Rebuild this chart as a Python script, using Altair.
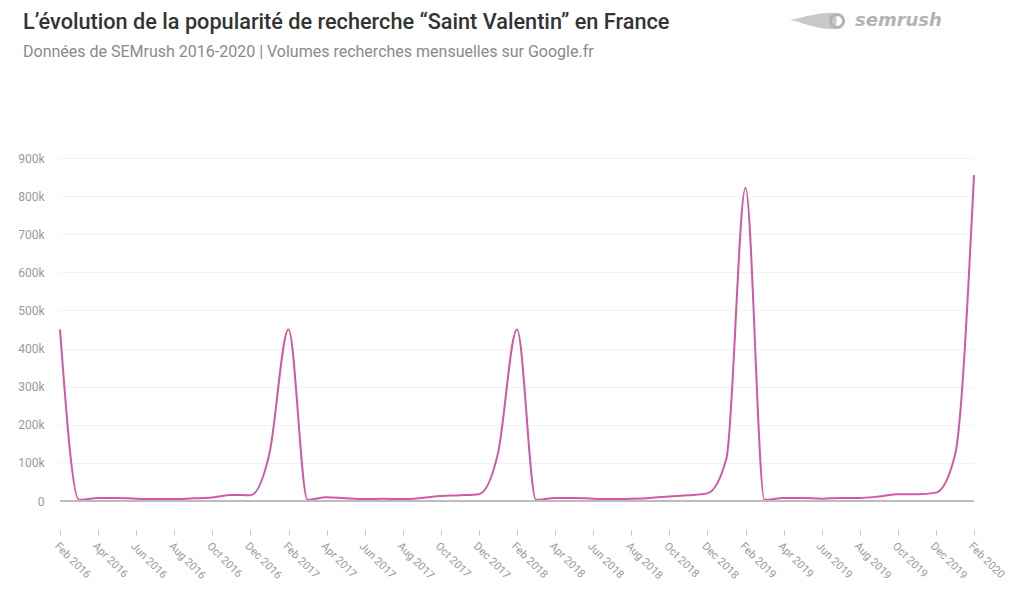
import altair as alt
import pandas as pd

# ---- data (monthly search volume, thousands) ----
months = [
    "Feb 2016", "Mar 2016", "Apr 2016", "May 2016", "Jun 2016", "Jul 2016", "Aug 2016", "Sep 2016",
    "Oct 2016", "Nov 2016", "Dec 2016", "Jan 2017", "Feb 2017", "Mar 2017", "Apr 2017", "May 2017",
    "Jun 2017", "Jul 2017", "Aug 2017", "Sep 2017", "Oct 2017", "Nov 2017", "Dec 2017", "Jan 2018",
    "Feb 2018", "Mar 2018", "Apr 2018", "May 2018", "Jun 2018", "Jul 2018", "Aug 2018", "Sep 2018",
    "Oct 2018", "Nov 2018", "Dec 2018", "Jan 2019", "Feb 2019", "Mar 2019", "Apr 2019", "May 2019",
    "Jun 2019", "Jul 2019", "Aug 2019", "Sep 2019", "Oct 2019", "Nov 2019", "Dec 2019", "Jan 2020",
    "Feb 2020",
]
volume_k = [
    450, 3, 8, 8, 6, 5, 5, 7,
    9, 16, 15, 125, 450, 3, 10, 7,
    5, 6, 5, 8, 13, 15, 18, 125,
    450, 3, 8, 8, 6, 5, 6, 8,
    12, 15, 20, 112, 822, 3, 8, 8,
    6, 8, 8, 12, 18, 18, 22, 120,
    855,
]
tick_labels = months[::2]
y_ticks = [0, 100000, 200000, 300000, 400000, 500000, 600000, 700000, 800000, 900000]

title_text = "L’évolution de la popularité de recherche “Saint Valentin” en France"
subtitle_text = "Données de SEMrush 2016-2020 | Volumes recherches mensuelles sur Google.fr"
logo_text = "semrush"

df = pd.DataFrame({"month": months, "volume": [v * 1000 for v in volume_k]})

FONT = "Roboto"
LINE = "#cf5aa3"

x_enc = alt.X(
    "month:O",
    sort=None,
    scale=alt.Scale(type="point", padding=0),
    axis=alt.Axis(
        values=tick_labels,
        labelAngle=45,
        labelAlign="left",
        labelBaseline="top",
        offset=29,
        domain=False,
        tickSize=5,
        tickColor="#c4c4c4",
        labelColor="#9a9a9a",
        labelFontSize=11,
        labelFont=FONT,
        labelPadding=5,
        labelOverlap=False,
        grid=False,
        title=None,
    ),
)
y_enc = alt.Y(
    "volume:Q",
    scale=alt.Scale(domain=[0, 900000], nice=False),
    axis=alt.Axis(
        values=y_ticks,
        tickCount=10,
        labelOverlap=False,
        labelExpr="datum.value == 0 ? '0' : (datum.value / 1000) + 'k'",
        domain=False,
        ticks=False,
        labelPadding=16,
        labelColor="#9a9a9a",
        labelFontSize=12,
        labelFont=FONT,
        gridColor="#f2f2f2",
        gridWidth=1,
        title=None,
    ),
)

line = alt.Chart(df).mark_line(
    interpolate="monotone", color=LINE, strokeWidth=2
).encode(x=x_enc, y=y_enc)

baseline = alt.Chart(pd.DataFrame({"z": [0]})).mark_rule(
    color="#bdbdbd", strokeWidth=2
).encode(y="z:Q")

title = alt.Chart(pd.DataFrame({"t": [title_text]})).mark_text(
    align="left", baseline="middle", font=FONT, fontSize=21.7, fontWeight=500, color="#333333"
).encode(text="t:N", x=alt.value(-37), y=alt.value(-136))

subtitle = alt.Chart(pd.DataFrame({"t": [subtitle_text]})).mark_text(
    align="left", baseline="middle", font=FONT, fontSize=16, color="#8a8a8a"
).encode(text="t:N", x=alt.value(-37), y=alt.value(-106))

logo = alt.Chart(pd.DataFrame({"t": [logo_text]})).mark_text(
    align="left", baseline="middle", font="DejaVu Sans", fontSize=18, fontWeight="bold",
    fontStyle="italic", color="#b3b3b3"
).encode(text="t:N", x=alt.value(795), y=alt.value(-137))

flame = alt.Chart(pd.DataFrame({"t": [1]})).mark_point(
    shape="M 0.55 -0.27 C 0.1 -0.3 -0.4 -0.18 -1 -0.02 C -0.6 0.02 -0.7 0.06 -0.5 0.1 C -0.2 0.2 0.1 0.28 0.55 0.27 Z",
    filled=True, color="#c9c9c9", opacity=1, size=3600
).encode(x=alt.value(760), y=alt.value(-137))

ring = alt.Chart(pd.DataFrame({"t": [1]})).mark_point(
    shape="circle", filled=False, color="#b3b3b3", strokeWidth=3, size=170, opacity=1
).encode(x=alt.value(777), y=alt.value(-137))

chart = alt.layer(line, baseline, title, subtitle, flame, ring, logo).properties(
    width=914,
    height=343,
    padding={"left": 52, "top": 150, "right": 42, "bottom": 80},
    autosize=alt.AutoSizeParams(type="none"),
    background="white",
).configure_view(stroke=None)

chart.save("out.html", embed_options={"renderer": "svg", "actions": False})
